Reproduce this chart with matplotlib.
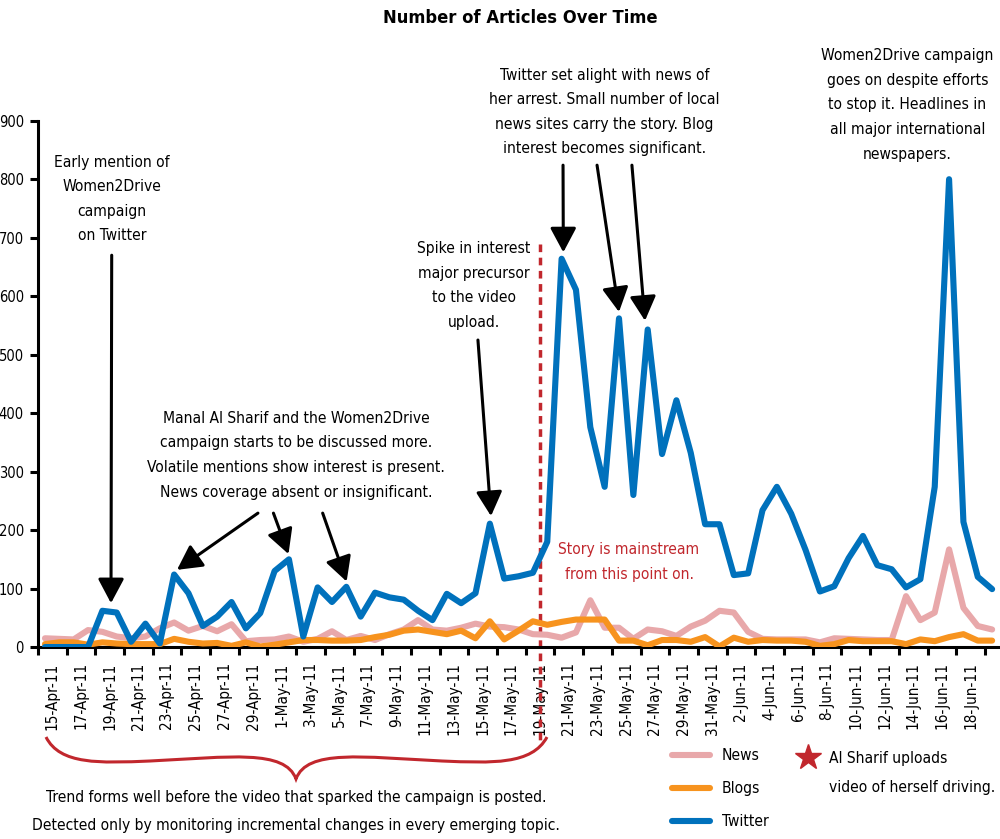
import matplotlib
matplotlib.use("Agg")
import matplotlib.pyplot as plt
from matplotlib import font_manager as fm
from matplotlib.lines import Line2D
from matplotlib.path import Path
from matplotlib.patches import PathPatch
import pandas as pd

# dias de 15-Apr-11 até 20-Jun-11
dates = pd.date_range("2011-04-15", "2011-06-20", freq="D")
date_labels = [f"{d.day}-{d.strftime('%b-%y')}" for d in dates]

twitter = [0, 0, 0, 0, 62, 59, 9, 40, 6, 124, 92, 36, 52, 77, 32, 58, 130, 150, 18, 102,
           77, 103, 52, 93, 85, 81, 62, 46, 91, 75, 92, 211, 117, 121, 127, 180, 664, 611,
           376, 274, 562, 260, 543, 330, 422, 332, 210, 210, 123, 126, 234, 274, 228, 166,
           95, 104, 152, 190, 140, 133, 102, 116, 274, 800, 214, 120, 99]
news = [15, 14, 13, 29, 26, 18, 15, 18, 32, 42, 28, 36, 27, 39, 10, 12, 13, 18, 9, 14,
        27, 12, 19, 12, 22, 30, 46, 30, 28, 33, 40, 35, 34, 30, 22, 21, 16, 25, 80, 33,
        33, 14, 30, 27, 19, 35, 45, 62, 59, 26, 14, 13, 13, 13, 8, 15, 14, 13, 12, 12,
        87, 46, 59, 167, 67, 36, 30]
blogs = [5, 8, 8, 4, 8, 6, 5, 5, 5, 14, 9, 6, 7, 2, 8, 1, 4, 8, 12, 12, 11, 11, 12, 17,
         21, 28, 30, 26, 22, 28, 15, 44, 13, 28, 44, 38, 43, 47, 47, 47, 11, 11, 3, 12,
         12, 9, 17, 1, 16, 9, 12, 11, 11, 9, 2, 5, 12, 10, 10, 10, 5, 13, 10, 17, 22, 11, 11]

series_names = ["News", "Blogs", "Twitter"]
series_colors = ["#E8A8AA", "#F7931E", "#0071BC"]
red = "#C1272D"


def pick_font():
    # tenta uma fonte estreita; senão usa Liberation Sans
    try:
        fm.findfont(fm.FontProperties(family='Liberation Sans Narrow'), fallback_to_default=False)
        return ['Liberation Sans Narrow', 'DejaVu Sans'], 'normal', 0.71
    except Exception:
        pass
    p = fm.findfont(fm.FontProperties(family='DejaVu Sans', stretch='condensed'))
    if 'Condensed' in p:
        return ['DejaVu Sans', 'DejaVu Sans'], 'condensed', 0.91
    return ['Liberation Sans', 'DejaVu Sans'], 'normal', 0.87


family, stretch, ratio = pick_font()
plt.rcParams['font.family'] = family
plt.rcParams['font.stretch'] = stretch

fs_note = 10.2 / ratio
fs_title = 12.0 / ratio
fs_ytick = 9.6 / ratio
fs_xtick = 10.0 / ratio
ls_note = 26 / (0.93 * fs_note * 100 / 72)

fig = plt.figure(figsize=(10, 8.39), dpi=100)
ax = fig.add_axes([0.0378, 0.2288, 0.9615, 0.6273])

x = list(range(len(dates)))
for vals, name, col in zip([news, blogs, twitter], series_names, series_colors):
    ax.plot(x, vals, color=col, lw=4.4, label=name, solid_joinstyle='round',
            solid_capstyle='round', zorder=3)

ax.set_xlim(-0.5, len(dates) - 0.5)
ax.set_ylim(0, 900)
ax.set_yticks(range(0, 901, 100))

# marcas entre as categorias, rótulos a cada 2 dias
ax.set_xticks([i - 0.5 for i in range(0, len(dates), 2)])
ax.set_xticklabels([])
ax.set_xticks([i + 0.5 for i in range(0, len(dates) - 2, 2)], minor=True)
ax.set_xticklabels(date_labels[0:len(dates) - 2:2], minor=True, rotation=90, fontsize=fs_xtick)
ax.tick_params(axis='x', which='minor', length=0, pad=11)
ax.tick_params(axis='x', which='major', length=6, width=2.2, direction='out')
ax.tick_params(axis='y', length=6, width=2.2, labelsize=fs_ytick, pad=4)

for s in ['top', 'right']:
    ax.spines[s].set_visible(False)
for s in ['left', 'bottom']:
    ax.spines[s].set_linewidth(2.2)

W, H = 1000, 839
fig.text(0.52, 1 - 18 / H, "Number of Articles Over Time", fontsize=fs_title,
         fontweight='bold', ha='center', va='center')

# linha vermelha: upload do vídeo
ax.plot([34.5, 34.5], [690, -160], color=red, lw=2.5, ls=(0, (2.2, 1.6)),
        clip_on=False, zorder=2)
ax.text(40.7, 145, "Story is mainstream\nfrom this point on.", color=red, fontsize=fs_note,
        ha='center', va='center', linespacing=ls_note)

arrow = dict(arrowstyle='-|>,head_length=0.75,head_width=0.4', color='black', lw=2.2,
             mutation_scale=20, shrinkA=0, shrinkB=0)

ax.text(4.67, 766, "Early mention of\nWomen2Drive\ncampaign\non Twitter", fontsize=fs_note,
        ha='center', va='center', linespacing=ls_note)
ax.annotate('', xy=(4.6, 75), xytext=(4.65, 670), arrowprops=arrow)

ax.text(17.5, 328, "Manal Al Sharif and the Women2Drive\ncampaign starts to be discussed more.\n"
        "Volatile mentions show interest is present.\nNews coverage absent or insignificant.",
        fontsize=fs_note, ha='center', va='center', linespacing=ls_note)
ax.annotate('', xy=(9.2, 132), xytext=(14.84, 229), arrowprops=arrow)
ax.annotate('', xy=(16.97, 159), xytext=(15.92, 229), arrowprops=arrow)
ax.annotate('', xy=(21.02, 112), xytext=(19.35, 229), arrowprops=arrow)

ax.text(29.9, 618, "Spike in interest\nmajor precursor\nto the video\nupload.", fontsize=fs_note,
        ha='center', va='center', linespacing=ls_note)
ax.annotate('', xy=(31.08, 224), xytext=(30.17, 525), arrowprops=arrow)

ax.text(39.0, 915, "Twitter set alight with news of\nher arrest. Small number of local\n"
        "news sites carry the story. Blog\ninterest becomes significant.",
        fontsize=fs_note, ha='center', va='center', linespacing=ls_note)
ax.annotate('', xy=(36.12, 675), xytext=(36.1, 824), arrowprops=arrow)
ax.annotate('', xy=(40.0, 573), xytext=(38.47, 824), arrowprops=arrow)
ax.annotate('', xy=(41.81, 558), xytext=(40.9, 824), arrowprops=arrow)

ax.text(60.1, 927, "Women2Drive campaign\ngoes on despite efforts\nto stop it. Headlines in\n"
        "all major international\nnewspapers.", fontsize=fs_note, ha='center', va='center',
        linespacing=ls_note)

# chave vermelha abaixo do eixo (coordenadas em pixels da figura)
pts = [(46, 737), (60, 765), (100, 763), (150, 761), (230, 757), (285, 749), (296, 779),
       (307, 749), (362, 757), (442, 761), (492, 763), (532, 765), (547, 737)]
verts = [(px / W, 1 - py / H) for px, py in pts]
codes = [Path.MOVETO] + [Path.CURVE4] * 12
fig.add_artist(PathPatch(Path(verts, codes), fill=False, edgecolor=red, lw=2.2,
                         transform=fig.transFigure))
fig.text(0.296, 1 - 811.5 / H, "Trend forms well before the video that sparked the campaign is posted.\n"
         "Detected only by monitoring incremental changes in every emerging topic.",
         fontsize=fs_note, ha='center', va='center', linespacing=ls_note * 29 / 26)

# legenda
fs_px = fs_note * 100 / 72
handles, labels = ax.get_legend_handles_labels()
fig.legend(handles, labels, loc='upper left', bbox_to_anchor=(0.672, 1 - 748 / H),
           bbox_transform=fig.transFigure, frameon=False, fontsize=fs_note,
           handlelength=38 / fs_px, handletextpad=12 / fs_px, labelspacing=34.5 / fs_px - 1.05,
           borderpad=0, borderaxespad=0)
fig.add_artist(Line2D([0.808], [1 - 757 / H], marker='*', markersize=19, color=red,
                      transform=fig.transFigure))
fig.text(0.829, 1 - 773 / H, "Al Sharif uploads\nvideo of herself driving.", fontsize=fs_note,
         ha='left', va='center', linespacing=ls_note * 31 / 26)

fig.savefig("out.png", dpi=100)
